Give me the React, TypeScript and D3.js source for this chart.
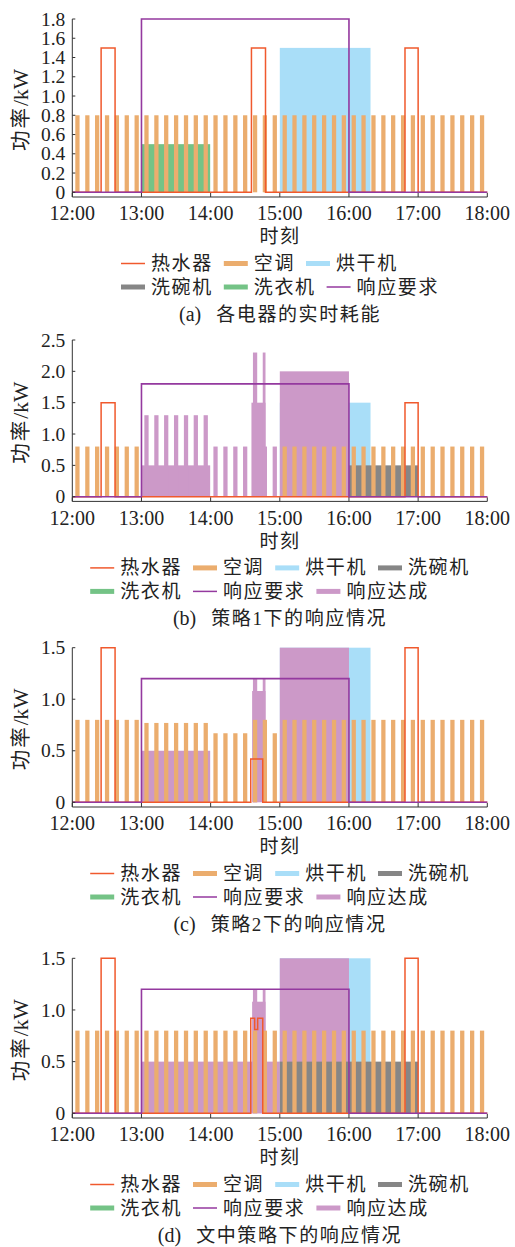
import React from "react";
import * as d3 from "d3";

// time axis, minutes after 12:00
const TIME_TICKS = [0, 60, 120, 180, 240, 300, 360];
const TIME_LABELS = ["12:00", "13:00", "14:00", "15:00", "16:00", "17:00", "18:00"];

// air-conditioner compressor cycles: start minute of each on-period
const AC_START = [
  2.6, 11.2, 19.7, 28.3, 36.8, 45.4, 54.0, 62.5, 71.1, 79.6, 88.2, 96.8, 105.3, 113.9,
  122.4, 131.0, 139.6, 148.1, 156.7, 165.2, 173.8, 182.4, 190.9, 199.5, 208.0, 216.6, 225.2, 233.7,
  242.3, 250.8, 259.4, 268.0, 276.5, 285.1, 293.6, 302.2, 310.8, 319.3, 327.9, 336.4, 345.0, 353.6,
];
const AC_WIDTH = 3.7;

// AC power per cycle (kW), one array per panel
const AC_A = [
  0.8, 0.8, 0.8, 0.8, 0.8, 0.8, 0.8, 0.8, 0.8, 0.8, 0.8, 0.8, 0.8, 0.8,
  0.8, 0.8, 0.8, 0.8, 0.8, 0.8, 0.8, 0.8, 0.8, 0.8, 0.8, 0.8, 0.8, 0.8,
  0.8, 0.8, 0.8, 0.8, 0.8, 0.8, 0.8, 0.8, 0.8, 0.8, 0.8, 0.8, 0.8, 0.8,
];
const AC_B = [
  0.8, 0.8, 0.8, 0.8, 0.8, 0.8, 0.8, 0, 0, 0, 0, 0, 0, 0,
  0, 0, 0, 0, 0, 0, 0, 0.8, 0.8, 0.8, 0.8, 0.8, 0.8, 0.8,
  0.8, 0.8, 0.8, 0.8, 0.8, 0.8, 0.8, 0.8, 0.8, 0.8, 0.8, 0.8, 0.8, 0.8,
];
const AC_C = [
  0.8, 0.8, 0.8, 0.8, 0.8, 0.8, 0.8, 0.77, 0.77, 0.77, 0.77, 0.77, 0.77, 0.77,
  0.67, 0.67, 0.67, 0.67, 0.8, 0.8, 0.67, 0.8, 0.8, 0.8, 0.8, 0.8, 0.8, 0.8,
  0.8, 0.8, 0.8, 0.8, 0.8, 0.8, 0.8, 0.8, 0.8, 0.8, 0.8, 0.8, 0.8, 0.8,
];
const AC_D = [
  0.8, 0.8, 0.8, 0.8, 0.8, 0.8, 0.8, 0.8, 0.8, 0.8, 0.8, 0.8, 0.8, 0.8,
  0.8, 0.8, 0.8, 0.8, 0.8, 0.8, 0.8, 0.8, 0.8, 0.8, 0.8, 0.8, 0.8, 0.8,
  0.8, 0.8, 0.8, 0.8, 0.8, 0.8, 0.8, 0.8, 0.8, 0.8, 0.8, 0.8, 0.8, 0.8,
];

// water heater, step points [minute, kW]
const HEATER_A = [[0, 0], [25, 1.5], [37.1, 0], [155.4, 1.5], [167.6, 0], [288.6, 1.5], [300, 0], [360, 0]];
const HEATER_B = [[0, 0], [25, 1.5], [37.1, 0], [288.6, 1.5], [300, 0], [360, 0]];
const HEATER_C = [[0, 0], [25, 1.5], [37.1, 0], [154.8, 0.42], [165.2, 0], [288.6, 1.5], [300, 0], [360, 0]];
const HEATER_D = [[0, 0], [25, 1.5], [37.1, 0], [154.8, 0.92], [158.2, 0.81], [160.8, 0.92], [165.2, 0], [288.6, 1.5], [300, 0], [360, 0]];

// response requirement, step points [minute, kW]
const REQ_A = [[0, 0], [60, 1.8], [240, 0], [360, 0]];
const REQ_B = [[0, 0], [60, 1.8], [240, 0], [360, 0]];
const REQ_C = [[0, 0], [60, 1.2], [240, 0], [360, 0]];
const REQ_D = [[0, 0], [60, 1.2], [240, 0], [360, 0]];

// block loads [start, end, kW]
const DRYER_A = [[180, 258.7, 1.5]];
const DRYER_B = [[180, 258.7, 1.5]];
const DRYER_C = [[180, 258.7, 1.5]];
const DRYER_D = [[180, 258.7, 1.5]];
const WASHER_A = [[60, 119.6, 0.5]];
const DISH_B = [[240, 300, 0.5]];
const DISH_D = [[180, 300, 0.5]];

// response achieved, pieces [start, end, kW]
const RESP_B = [
  [60, 119.6, 0.5],
  [62.5, 66.2, 1.3], [71.1, 74.8, 1.3], [79.6, 83.3, 1.3], [88.2, 91.9, 1.3],
  [96.8, 100.5, 1.3], [105.3, 109.0, 1.3], [113.9, 117.6, 1.3],
  [122.4, 126.1, 0.8], [131.0, 134.7, 0.8], [139.6, 143.3, 0.8], [148.1, 151.8, 0.8],
  [155.4, 167.6, 1.5], [156.7, 160.4, 2.3], [165.2, 167.6, 2.3], [165.2, 168.9, 0.8],
  [173.8, 177.5, 0.8],
  [180, 240, 2.0],
];
const RESP_C = [
  [60, 119.6, 0.5],
  [156.0, 167.6, 1.08], [156.7, 160.4, 1.2], [165.2, 167.6, 1.2],
  [180, 240, 1.5],
];
const RESP_D = [
  [60, 180, 0.5],
  [156.0, 167.6, 1.08], [156.7, 160.4, 1.2], [165.2, 167.6, 1.2],
  [180, 240, 1.5],
];

const TICKS_A = [0, 0.2, 0.4, 0.6, 0.8, 1.0, 1.2, 1.4, 1.6, 1.8];
const TICKS_B = [0, 0.5, 1.0, 1.5, 2.0, 2.5];
const TICKS_CD = [0, 0.5, 1.0, 1.5];

const C = {
  heater: "#f0592d",
  ac: "#ebad6e",
  dryer: "#a9def8",
  dish: "#868686",
  washer: "#74c386",
  req: "#94399f",
  resp: "#cc99c8",
  axis: "#333",
  text: "#222",
};

const NAMES = {
  heater: "热水器", ac: "空调", dryer: "烘干机", dish: "洗碗机",
  washer: "洗衣机", req: "响应要求", resp: "响应达成",
};
const LINE_ITEMS = ["heater", "req"];

const LATIN = "Liberation Serif, Times New Roman, serif";
const CJK = "Liberation Serif, Noto Sans CJK SC, sans-serif";

const X0 = 72.3;
const X1 = 487.3;
const CX = 280;
const CHAR_W = 20.6;

const panels = [
  {
    tag: "(a)", caption: "各电器的实时耗能", top: 19, zero: 192.3, yMax: 1.8, ticks: TICKS_A,
    ac: AC_A, heater: HEATER_A, req: REQ_A, dryer: DRYER_A, washer: WASHER_A, dish: [], resp: [],
    legend: [["heater", "ac", "dryer"], ["dish", "washer", "req"]],
  },
  {
    tag: "(b)", caption: "策略1下的响应情况", top: 340, zero: 496.7, yMax: 2.5, ticks: TICKS_B,
    ac: AC_B, heater: HEATER_B, req: REQ_B, dryer: DRYER_B, washer: [], dish: DISH_B, resp: RESP_B,
    legend: [["heater", "ac", "dryer", "dish"], ["washer", "req", "resp"]],
  },
  {
    tag: "(c)", caption: "策略2下的响应情况", top: 647.7, zero: 802.3, yMax: 1.5, ticks: TICKS_CD,
    ac: AC_C, heater: HEATER_C, req: REQ_C, dryer: DRYER_C, washer: [], dish: [], resp: RESP_C,
    legend: [["heater", "ac", "dryer", "dish"], ["washer", "req", "resp"]],
  },
  {
    tag: "(d)", caption: "文中策略下的响应情况", top: 958.3, zero: 1113.3, yMax: 1.5, ticks: TICKS_CD,
    ac: AC_D, heater: HEATER_D, req: REQ_D, dryer: DRYER_D, washer: [], dish: DISH_D, resp: RESP_D,
    legend: [["heater", "ac", "dryer", "dish"], ["washer", "req", "resp"]],
  },
];

const fmt = (v) => (v === 0 ? "0" : v.toFixed(1));

function itemWidth(key) {
  return 24 + 6 + NAMES[key].length * CHAR_W;
}

function Legend({ rows, y0 }) {
  const widths = rows.map((r) => r.reduce((s, k) => s + itemWidth(k), 0) + (r.length - 1) * 11);
  const left = CX - d3.max(widths) / 2;
  return (
    <g>
      {rows.map((row, ri) => {
        let cur = left;
        const cy = y0 + ri * 23.5;
        return row.map((key) => {
          const xs = cur;
          cur += itemWidth(key) + 11;
          const isLine = LINE_ITEMS.includes(key);
          return (
            <g key={key}>
              <line x1={xs} x2={xs + 24} y1={cy} y2={cy} stroke={C[key]} strokeWidth={isLine ? 1.5 : 5} />
              <text x={xs + 30} y={cy} dominantBaseline="central" fontFamily={CJK} fontSize={19}
                letterSpacing={1.6} fill={C.text}>{NAMES[key]}</text>
            </g>
          );
        });
      })}
    </g>
  );
}

function Panel({ p }) {
  const x = d3.scaleLinear().domain([0, 360]).range([X0, X1]);
  const y = d3.scaleLinear().domain([0, p.yMax]).range([p.zero, p.top]);
  const step = d3.line().x((d) => x(d[0])).y((d) => y(d[1])).curve(d3.curveStepAfter);
  const ab = p.zero + 4.7;

  const blocks = (list, color, key) =>
    list.map(([t0, t1, v], i) => (
      <rect key={key + i} x={x(t0)} y={y(v)} width={x(t1) - x(t0)} height={y(0) - y(v)} fill={color} />
    ));

  return (
    <g>
      {blocks(p.dryer, C.dryer, "dr")}
      {blocks(p.resp, C.resp, "rs")}
      {blocks(p.dish, C.dish, "ds")}
      {blocks(p.washer, C.washer, "wa")}
      {AC_START.map((s, k) =>
        p.ac[k] > 0 ? (
          <rect key={"ac" + k} x={x(s)} y={y(p.ac[k])} width={x(s + AC_WIDTH) - x(s)}
            height={y(0) - y(p.ac[k])} fill={C.ac} />
        ) : null
      )}
      <path d={step(p.heater)} fill="none" stroke={C.heater} strokeWidth={1.5} />
      <path d={step(p.req)} fill="none" stroke={C.req} strokeWidth={1.6} />

      {/* axes */}
      <line x1={X0} x2={X0} y1={y(p.yMax)} y2={ab} stroke={C.axis} strokeWidth={1} />
      <line x1={X0} x2={X1} y1={ab} y2={ab} stroke={C.axis} strokeWidth={1} />
      {p.ticks.map((t) => (
        <g key={"yt" + t}>
          <line x1={X0} x2={X0 + 3} y1={y(t)} y2={y(t)} stroke={C.axis} />
          <text x={X0 - 7} y={y(t)} dy="0.34em" textAnchor="end" fontFamily={LATIN} fontSize={19.5} fill={C.text}>
            {fmt(t)}
          </text>
        </g>
      ))}
      {TIME_TICKS.map((t, i) => (
        <g key={"xt" + t}>
          <line x1={x(t)} x2={x(t)} y1={ab} y2={ab - 4} stroke={C.axis} />
          <text x={x(t)} y={ab + 23.3} textAnchor="middle" fontFamily={LATIN} fontSize={20} fill={C.text}>
            {TIME_LABELS[i]}
          </text>
        </g>
      ))}
      <text x={CX} y={ab + 39.8} dominantBaseline="central" textAnchor="middle" fontFamily={CJK}
        fontSize={19} letterSpacing={1.6} fill={C.text}>时刻</text>
      <text transform={`translate(20.5,${(p.top + ab) / 2 + 2}) rotate(-90)`} dominantBaseline="central"
        textAnchor="middle" fontFamily={CJK} fontSize={20.5} fill={C.text}>
        <tspan letterSpacing={2}>功率</tspan><tspan fontSize={21.5}>/kW</tspan>
      </text>
      <Legend rows={p.legend} y0={ab + 66.5} />
      <text x={CX} y={ab + 117} dominantBaseline="central" textAnchor="middle" fontFamily={CJK}
        fontSize={19} fill={C.text}>
        <tspan fontSize={20}>{p.tag}</tspan>
        <tspan dx={15} letterSpacing={1.6}>{p.caption}</tspan>
      </text>
    </g>
  );
}

export default function App() {
  return (
    <svg width={515} height={1247} style={{ position: "absolute", left: 0, top: 0, background: "#fff" }}>
      <rect width={515} height={1247} fill="#fff" />
      {panels.map((p) => (
        <Panel key={p.tag} p={p} />
      ))}
    </svg>
  );
}
